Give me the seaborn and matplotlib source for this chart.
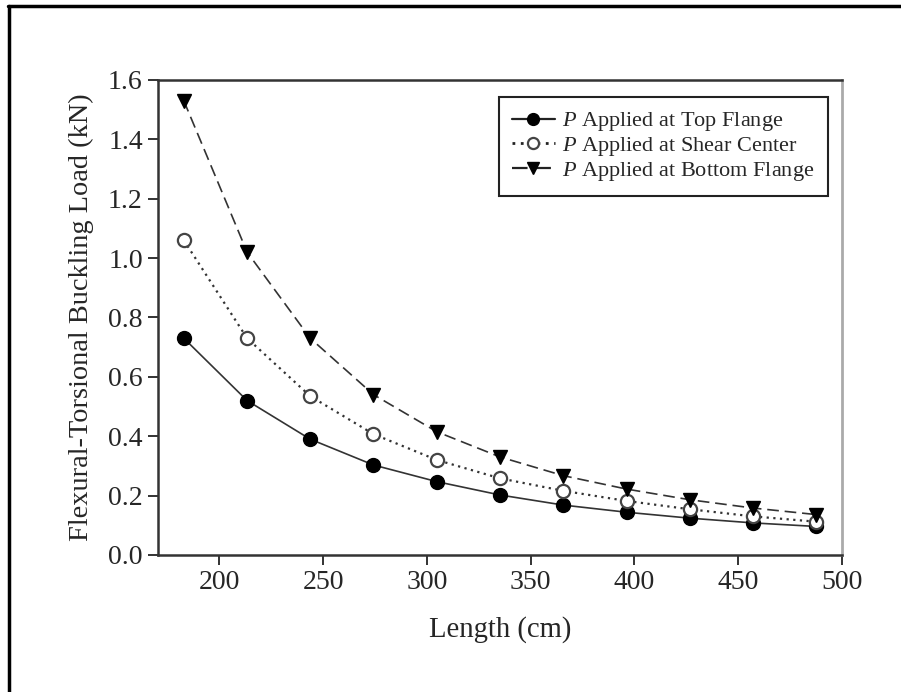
import numpy as np
import pandas as pd
import matplotlib
matplotlib.use("Agg")
import matplotlib.pyplot as plt
from matplotlib.lines import Line2D
import seaborn as sns

# Beam lengths (6 ft to 16 ft, in cm)
length_cm = [182.9, 213.4, 243.8, 274.3, 304.8, 335.3, 365.8, 396.2, 426.7, 457.2, 487.7]

# Flexural-torsional buckling loads (kN) for each load position
top_flange = [0.73, 0.52, 0.39, 0.303, 0.247, 0.202, 0.168, 0.144, 0.124, 0.108, 0.096]
shear_center = [1.06, 0.73, 0.535, 0.407, 0.32, 0.258, 0.216, 0.182, 0.154, 0.130, 0.112]
bottom_flange = [1.53, 1.02, 0.73, 0.54, 0.415, 0.33, 0.267, 0.222, 0.186, 0.158, 0.136]

series_labels = ["Applied at Top Flange", "Applied at Shear Center", "Applied at Bottom Flange"]

x_ticks = [200, 250, 300, 350, 400, 450, 500]
y_ticks = [0.0, 0.2, 0.4, 0.6, 0.8, 1.0, 1.2, 1.4, 1.6]

sns.set_theme(style="white")
plt.rcParams["font.family"] = ["Liberation Serif", "DejaVu Serif"]
plt.rcParams["mathtext.fontset"] = "custom"
plt.rcParams["mathtext.it"] = "Liberation Serif:italic"
plt.rcParams["mathtext.rm"] = "Liberation Serif"

df = pd.DataFrame({
    "Length": length_cm * 3,
    "Load": top_flange + shear_center + bottom_flange,
    "Case": sum([[s] * len(length_cm) for s in series_labels], []),
})

fig = plt.figure(figsize=(9.01, 6.92), dpi=100)
ax = fig.add_axes([0.1754, 0.198, 0.7591, 0.6866])

styles = {
    series_labels[0]: dict(linestyle="-", marker="o", mfc="black", mec="black", ms=10, lw=1.2),
    series_labels[1]: dict(linestyle=(0, (1, 2)), marker="o", mfc="white", mec="#444444", ms=9.5, mew=1.6, lw=1.6),
    series_labels[2]: dict(linestyle=(0, (7, 3.5)), marker="v", mfc="black", mec="black", ms=10.5, lw=1.2),
}

for case in series_labels:
    st = styles[case]
    sub = df[df["Case"] == case]
    sns.lineplot(data=sub, x="Length", y="Load", ax=ax, color="#333333",
                 linestyle=st["linestyle"], lw=st["lw"], marker=st["marker"],
                 markerfacecolor=st["mfc"], markeredgecolor=st["mec"],
                 markersize=st["ms"], markeredgewidth=st.get("mew", 1.0),
                 legend=False, zorder=3)

ax.set_xlim(170.5, 500)
ax.set_ylim(0, 1.6)
ax.set_xticks(x_ticks)
ax.set_yticks(y_ticks)
ax.set_xticklabels([str(v) for v in x_ticks])
ax.set_yticklabels([f"{v:.1f}" for v in y_ticks])
ax.tick_params(axis="both", which="major", direction="out", length=7, width=1.4,
               color="#333333", labelsize=20, pad=4, left=True, bottom=True)

for side in ["left", "bottom", "top"]:
    ax.spines[side].set_color("#333333")
    ax.spines[side].set_linewidth(1.8)
    ax.spines[side].set_visible(True)
ax.spines["right"].set_color("#aaaaaa")
ax.spines["right"].set_linewidth(2.0)
ax.spines["right"].set_visible(True)

ax.set_xlabel("Length (cm)", fontsize=20.6, labelpad=15)
ax.set_ylabel("Flexural-Torsional Buckling Load (kN)", fontsize=20.4, labelpad=10)

handles = []
for case in series_labels:
    st = styles[case]
    handles.append(Line2D([], [], color="#222222", linestyle=st["linestyle"], lw=st["lw"] + 0.4,
                          marker=st["marker"], markerfacecolor=st["mfc"],
                          markeredgecolor=st["mec"], markersize=st["ms"] - 1.5,
                          markeredgewidth=st.get("mew", 1.0)))
leg = ax.legend(handles, [r"$P$ " + s for s in series_labels], loc="upper right",
                bbox_to_anchor=(0.9795, 0.964), borderaxespad=0, fontsize=16,
                frameon=True, fancybox=False, edgecolor="#222222", framealpha=1,
                handlelength=1.9, handletextpad=0.35, borderpad=0.6, labelspacing=0.08,
                numpoints=1)
leg.get_frame().set_linewidth(1.5)

# Figure border along the top and left edges
fig.add_artist(Line2D([8 / 901, 1.0], [1 - 6 / 692, 1 - 6 / 692], transform=fig.transFigure,
                      color="black", lw=2.5))
fig.add_artist(Line2D([9 / 901, 9 / 901], [0.0, 1 - 6 / 692], transform=fig.transFigure,
                      color="black", lw=2.5))

fig.savefig("out.png", dpi=100)
